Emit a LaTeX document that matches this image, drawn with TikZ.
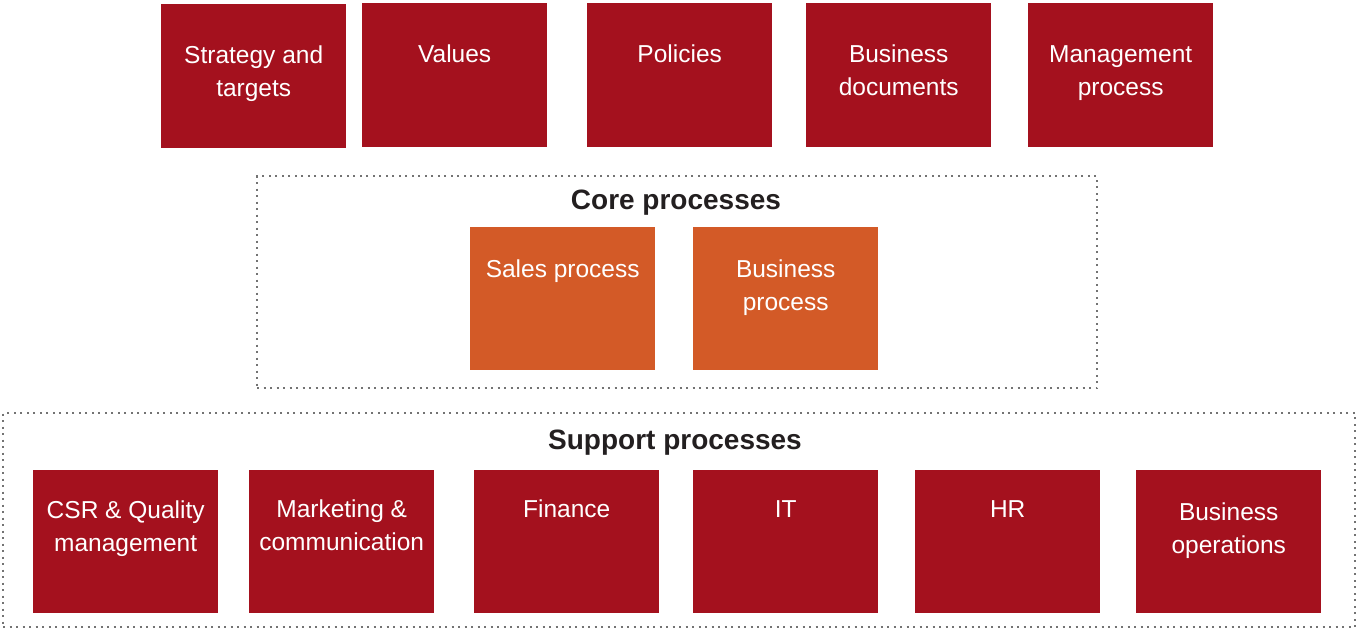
\documentclass[tikz,border=0pt]{standalone}
\usepackage{fontspec}
\setmainfont{Liberation Sans}
\definecolor{boxred}{RGB}{164,17,30}
\definecolor{boxorange}{RGB}{211,90,39}
\definecolor{dotgray}{RGB}{115,115,115}
\definecolor{titlegray}{RGB}{35,31,32}
\newcommand{\boxtext}[2]{\parbox[c][143pt][t]{185pt}{\centering\fontsize{24.5}{33}\selectfont\vspace*{#1}\strut #2\par}}
\tikzset{
  box/.style={anchor=north west, inner sep=0pt, minimum width=185pt, minimum height=143pt, text=white},
  redbox/.style={box, fill=boxred},
  orangebox/.style={box, fill=boxorange},
  group/.style={draw=dotgray, line width=2.2pt, dash pattern=on 2pt off 4.5pt, anchor=north west, inner sep=0pt},
  grouptitle/.style={anchor=base, font=\fontsize{28}{34}\selectfont\bfseries, text=titlegray},
}
\begin{document}
\begin{tikzpicture}[x=1pt,y=1pt]
\useasboundingbox (0,0) rectangle (1357,-630);
% groups
\node[group, minimum width=840pt, minimum height=212pt] (core) at (256,-175) {};
\node[group, minimum width=1352pt, minimum height=214pt] (support) at (2,-412) {};
\node[grouptitle] (coretitle) at (676,-209) {Core processes};
\node[grouptitle] (supporttitle) at (675,-449) {Support processes};
% top row
\node[redbox, minimum height=144pt] (strategy) at (161,-4) {\boxtext{36pt}{Strategy and\\targets}};
\node[redbox, minimum height=144pt] (values) at (362,-3) {\boxtext{36pt}{Values}};
\node[redbox, minimum height=144pt] (policies) at (587,-3) {\boxtext{36pt}{Policies}};
\node[redbox, minimum height=144pt] (bizdocs) at (806,-3) {\boxtext{36pt}{Business\\documents}};
\node[redbox, minimum height=144pt] (mgmt) at (1028,-3) {\boxtext{36pt}{Management\\process}};
% core
\node[orangebox] (sales) at (470,-227) {\boxtext{27pt}{Sales process}};
\node[orangebox] (bizproc) at (693,-227) {\boxtext{27pt}{Business\\process}};
% support
\node[redbox] (csr) at (33,-470) {\boxtext{25pt}{CSR \& Quality\\management}};
\node[redbox] (mkt) at (249,-470) {\boxtext{24pt}{Marketing \&\\communication}};
\node[redbox] (fin) at (474,-470) {\boxtext{24pt}{Finance}};
\node[redbox] (it) at (693,-470) {\boxtext{24pt}{IT}};
\node[redbox] (hr) at (915,-470) {\boxtext{24pt}{HR}};
\node[redbox] (ops) at (1136,-470) {\boxtext{27pt}{Business\\operations}};
\end{tikzpicture}
\end{document}
